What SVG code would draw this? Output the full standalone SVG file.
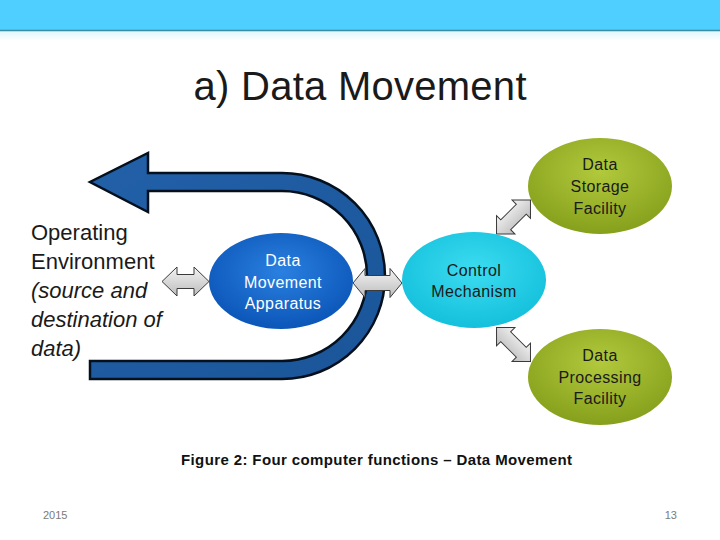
<svg xmlns="http://www.w3.org/2000/svg" width="720" height="540" viewBox="0 0 720 540">
<defs>
<linearGradient id="hdrFade" x1="0" y1="0" x2="0" y2="1"><stop offset="0" stop-color="#dff7ff"/><stop offset="1" stop-color="#ffffff"/></linearGradient>
<radialGradient id="gBlue" cx="0.5" cy="0.4" r="0.6"><stop offset="0" stop-color="#2a80e0"/><stop offset="1" stop-color="#0b56b8"/></radialGradient>
<radialGradient id="gCyan" cx="0.5" cy="0.4" r="0.6"><stop offset="0" stop-color="#3cdcf0"/><stop offset="1" stop-color="#14c0dc"/></radialGradient>
<radialGradient id="gGreen" cx="0.5" cy="0.35" r="0.65"><stop offset="0" stop-color="#b2c93c"/><stop offset="1" stop-color="#86a01c"/></radialGradient>
<linearGradient id="gUarrow" x1="0" y1="0" x2="1" y2="1"><stop offset="0" stop-color="#2260a8"/><stop offset="1" stop-color="#1a5598"/></linearGradient>
<linearGradient id="gGray" x1="0" y1="0" x2="0" y2="1"><stop offset="0" stop-color="#f4f4f4"/><stop offset="1" stop-color="#bcbcbc"/></linearGradient>
<style>
.dbl{fill:url(#gGray);stroke:#3a3a3a;stroke-width:1}
.lbl{font-family:"Liberation Sans",Arial,sans-serif;font-size:16px;text-anchor:middle;letter-spacing:0.4px}
.dark{fill:#1a1a1a}
.white{fill:#ffffff}
</style>
</defs>
<rect width="720" height="540" fill="#ffffff"/>
<g id="header">
<rect x="0" y="0" width="720" height="30" fill="#4fcfff"/>
<rect x="0" y="31" width="720" height="10" fill="url(#hdrFade)"/>
<line x1="0" y1="30.5" x2="720" y2="30.5" stroke="#3a8ca0" stroke-width="1.5"/>
</g>
<text id="title" x="360" y="100" font-family="'Liberation Sans',Arial,sans-serif" font-size="40" text-anchor="middle" fill="#1a1a1a" textLength="333">a) Data Movement</text>
<g id="operating-environment" font-family="'Liberation Sans',Arial,sans-serif" font-size="22" fill="#1a1a1a">
<text x="31" y="240">Operating</text>
<text x="31" y="269">Environment</text>
<text x="31" y="298" font-style="italic">(source and</text>
<text x="31" y="327" font-style="italic">destination of</text>
<text x="31" y="356" font-style="italic">data)</text>
</g>
<g id="u-arrow">
<path d="M148,173 L282,173 A103,103 0 0 1 282,379 L90,379 L90,361 L282,361 A85,85 0 0 0 282,191 L148,191 L148,212 L90,182 L148,153 Z" fill="url(#gUarrow)" stroke="#05101e" stroke-width="2.5" stroke-linejoin="miter"/>
</g>
<g id="connectors">
<path class="dbl" transform="translate(185.5,281.5)" d="M-23.5,0 L-8.5,-14.5 L-8.5,-7 L8.5,-7 L8.5,-14.5 L23.5,0 L8.5,14.5 L8.5,7 L-8.5,7 L-8.5,14.5 Z"/>
<path class="dbl" transform="translate(377.5,283)" d="M-24.5,0 L-12.5,-14.5 L-12.5,-7.5 L12.5,-7.5 L12.5,-14.5 L24.5,0 L12.5,14.5 L12.5,7.5 L-12.5,7.5 L-12.5,14.5 Z"/>
<path class="dbl" transform="translate(513.5,217) rotate(-45)" d="M-24,0 L-11,-13 L-11,-7 L11,-7 L11,-13 L24,0 L11,13 L11,7 L-11,7 L-11,13 Z"/>
<path class="dbl" transform="translate(513.5,344.5) rotate(45)" d="M-24,0 L-11,-13 L-11,-7 L11,-7 L11,-13 L24,0 L11,13 L11,7 L-11,7 L-11,13 Z"/>
</g>
<g id="data-movement-apparatus">
<ellipse cx="281" cy="281" rx="72" ry="48" fill="url(#gBlue)"/>
<text class="lbl white" x="283" y="266">Data</text>
<text class="lbl white" x="283" y="288">Movement</text>
<text class="lbl white" x="283" y="309">Apparatus</text>
</g>
<g id="control-mechanism">
<ellipse cx="474" cy="280" rx="72" ry="48" fill="url(#gCyan)"/>
<text class="lbl dark" x="474" y="276">Control</text>
<text class="lbl dark" x="474" y="297">Mechanism</text>
</g>
<g id="data-storage-facility">
<ellipse cx="600" cy="186" rx="72" ry="48" fill="url(#gGreen)"/>
<text class="lbl dark" x="600" y="170">Data</text>
<text class="lbl dark" x="600" y="192">Storage</text>
<text class="lbl dark" x="600" y="214">Facility</text>
</g>
<g id="data-processing-facility">
<ellipse cx="600" cy="377" rx="72" ry="48" fill="url(#gGreen)"/>
<text class="lbl dark" x="600" y="361">Data</text>
<text class="lbl dark" x="600" y="383">Processing</text>
<text class="lbl dark" x="600" y="404">Facility</text>
</g>
<text id="caption" x="181" y="465" font-family="'Liberation Sans',Arial,sans-serif" font-size="15" font-weight="bold" fill="#111111" textLength="391">Figure 2: Four computer functions – Data Movement</text>
<g id="footer" font-family="'Liberation Sans',Arial,sans-serif" font-size="11" fill="#7a7a7a">
<text x="43" y="519">2015</text>
<text x="677" y="519" text-anchor="end">13</text>
</g>
</svg>
